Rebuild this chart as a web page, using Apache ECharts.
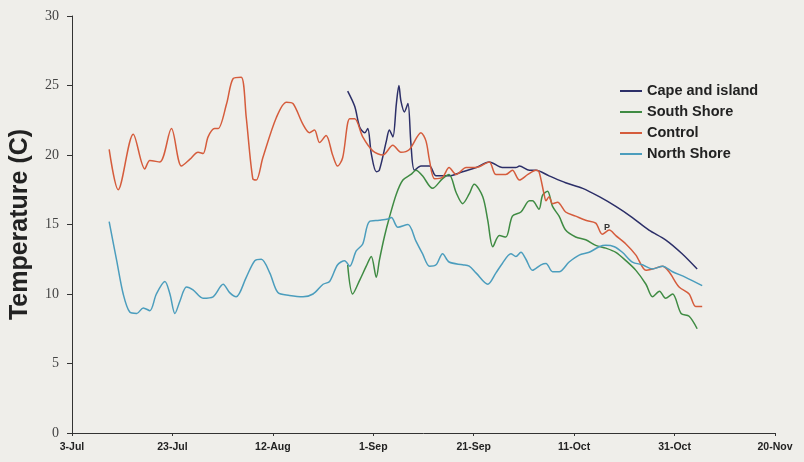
<!DOCTYPE html>
<html>
<head>
<meta charset="utf-8">
<script src="https://cdn.jsdelivr.net/npm/echarts@6/dist/echarts.min.js"></script>
<style>
html,body{margin:0;padding:0;background:#efeeea;}
#chart{width:804px;height:462px;}
</style>
</head>
<body>
<div id="chart"></div>
<script>
// x values are days after 3-Jul
var tickLabels = ['3-Jul','23-Jul','12-Aug','1-Sep','21-Sep','11-Oct','31-Oct','20-Nov'];
var seriesNames = ['Cape and island','South Shore','Control','North Shore'];

var capeIsland = [[54.9,24.6],[56.3,23.5],[57.3,22.0],[58.3,21.6],[58.9,21.9],[59.6,20.1],[60.6,18.8],[61.2,18.9],[62.6,21.0],[63.2,21.8],[63.9,21.3],[64.6,23.7],[65.1,25.0],[65.5,23.9],[66.2,23.1],[66.9,23.7],[67.5,20.8],[68.2,18.9],[69.5,19.2],[71.2,19.2],[72.5,18.5],[75.1,18.5],[77.8,18.8],[80.5,19.1],[83.1,19.5],[85.7,19.1],[88.4,19.1],[89.1,19.2],[91.1,18.9],[92.4,18.9],[95.0,18.5],[98.3,18.0],[101.7,17.6],[105.0,17.0],[108.3,16.3],[111.6,15.5],[114.9,14.6],[118.2,13.9],[121.5,12.9],[124.5,11.8]];

var southShore = [[54.9,12.1],[55.9,10.0],[57.3,11.0],[58.6,12.0],[59.6,12.7],[60.6,11.2],[61.2,12.4],[62.2,14.1],[63.2,15.5],[64.6,17.2],[65.9,18.2],[67.5,18.6],[68.5,18.9],[69.8,18.5],[71.8,17.6],[73.8,18.3],[75.1,18.6],[76.5,17.3],[77.8,16.5],[79.1,17.2],[80.1,17.9],[81.8,17.0],[82.8,15.3],[83.8,13.4],[85.1,14.2],[86.4,14.1],[87.7,15.6],[89.4,15.9],[91.1,16.7],[91.7,16.7],[93.0,16.1],[93.7,17.1],[94.7,17.4],[95.7,16.3],[97.0,15.6],[98.3,14.6],[100.3,14.1],[102.3,13.9],[104.3,13.5],[106.3,13.3],[108.3,13.0],[110.3,12.4],[112.3,11.7],[114.3,10.7],[115.6,9.8],[117.0,10.2],[118.2,9.7],[119.6,10.0],[121.3,8.6],[122.9,8.4],[124.5,7.5]];

var control = [[7.4,20.4],[9.2,17.5],[12.2,21.5],[14.5,19.0],[15.5,19.6],[17.5,19.5],[19.8,21.9],[21.8,19.2],[23.5,19.7],[25.1,20.2],[26.1,20.1],[27.1,21.3],[28.4,21.9],[29.1,21.9],[30.8,23.7],[32.1,25.5],[33.7,25.6],[34.7,22.7],[36.0,18.3],[36.7,18.2],[38.0,19.8],[40.7,22.7],[42.7,23.8],[44.0,23.7],[46.0,22.2],[47.3,21.6],[48.3,21.8],[49.3,20.9],[50.6,21.4],[51.9,20.0],[52.9,19.2],[53.9,19.8],[55.3,22.6],[56.3,22.6],[57.9,21.3],[59.9,20.3],[61.9,20.0],[63.9,20.7],[65.5,20.2],[67.2,20.4],[69.5,21.6],[70.5,21.0],[71.2,19.6],[72.2,18.3],[73.8,18.4],[75.1,19.1],[76.5,18.6],[78.5,19.1],[80.5,19.1],[83.1,19.5],[84.4,18.6],[86.4,18.6],[87.7,18.9],[89.1,18.2],[90.8,18.6],[92.4,18.9],[93.0,18.8],[94.0,17.2],[94.4,16.7],[95.0,17.0],[95.7,16.5],[96.7,16.6],[98.3,15.9],[100.3,15.6],[102.3,15.3],[104.3,15.1],[105.6,14.3],[107.0,14.6],[108.3,14.2],[110.3,13.6],[112.3,12.8],[114.3,11.7],[115.6,11.8],[117.6,12.0],[118.9,11.6],[120.9,10.5],[122.9,10.0],[124.2,9.1],[125.5,9.1]];

var northShore = [[7.4,15.2],[8.9,12.4],[10.2,10.0],[11.5,8.7],[12.9,8.6],[14.2,9.0],[15.5,8.8],[16.8,10.0],[18.5,10.9],[19.5,10.0],[20.5,8.6],[21.5,9.5],[22.8,10.5],[24.1,10.3],[26.1,9.7],[28.1,9.8],[30.1,10.7],[31.4,10.1],[32.7,9.8],[34.7,11.2],[36.4,12.4],[37.7,12.5],[39.4,11.5],[41.0,10.1],[43.3,9.9],[46.0,9.8],[48.0,10.0],[50.0,10.7],[51.3,10.9],[52.9,12.1],[54.3,12.4],[55.3,12.0],[56.6,13.1],[57.9,13.6],[59.2,15.2],[61.2,15.3],[62.9,15.4],[63.6,15.5],[64.9,14.8],[66.9,15.0],[68.5,13.8],[69.8,12.9],[71.2,12.0],[72.5,12.1],[73.8,12.9],[75.1,12.3],[77.8,12.1],[79.1,12.0],[80.5,11.5],[82.8,10.7],[84.4,11.5],[85.7,12.2],[87.4,12.9],[88.4,12.7],[89.4,13.0],[90.4,12.5],[91.7,11.7],[93.4,12.1],[94.4,12.2],[95.7,11.6],[97.0,11.6],[99.0,12.3],[101.0,12.8],[103.0,13.0],[105.0,13.4],[106.3,13.5],[108.0,13.4],[109.6,13.0],[111.6,12.3],[113.6,12.1],[115.6,11.8],[117.6,12.0],[119.6,11.6],[122.2,11.2],[125.5,10.6]];

var colors = ['#2c2f68','#3f8b43','#d55c3c','#4b9dbd'];
var dataSets = [capeIsland, southShore, control, northShore];

var chart = echarts.init(document.getElementById('chart'));
chart.setOption({
  backgroundColor: '#efeeea',
  animation: false,
  grid: {left: 72, right: 29, top: 16, bottom: 29},
  legend: {
    orient: 'vertical', left: 615, top: 78,
    icon: 'rect', itemWidth: 22, itemHeight: 2, itemGap: 5,
    textStyle: {fontFamily: 'Liberation Sans', fontWeight: 'bold', fontSize: 14.5, lineHeight: 16, color: '#222'},
    data: seriesNames
  },
  xAxis: {
    type: 'value', min: 0, max: 140, interval: 20,
    axisLine: {lineStyle: {color: '#333', width: 1}},
    axisTick: {length: 3, lineStyle: {color: '#333'}},
    splitLine: {show: false},
    axisLabel: {
      margin: 9, color: '#222', fontFamily: 'Liberation Sans', fontWeight: 'bold', fontSize: 10.5,
      formatter: function (v) { return tickLabels[Math.round(v / 20)]; }
    }
  },
  yAxis: {
    type: 'value', min: 0, max: 30, interval: 5,
    name: 'Temperature (C)', nameLocation: 'middle', nameGap: 39,
    nameTextStyle: {fontFamily: 'Liberation Sans', fontWeight: 'bold', fontSize: 25, color: '#222'},
    axisLine: {show: true, lineStyle: {color: '#333', width: 1}},
    axisTick: {show: true, length: 5, lineStyle: {color: '#333'}},
    splitLine: {show: false},
    axisLabel: {margin: 13, color: '#444', fontFamily: 'Liberation Serif', fontSize: 14}
  },
  graphic: [{
    type: 'text', left: 604, top: 223,
    style: {text: 'P', fontFamily: 'Liberation Sans', fontWeight: 'bold', fontSize: 9, fill: '#333'}
  }],
  series: seriesNames.map(function (n, i) {
    return {
      name: n, type: 'line', data: dataSets[i], smooth: 0.3, showSymbol: false,
      lineStyle: {color: colors[i], width: 1.5}, itemStyle: {color: colors[i]}
    };
  })
});
</script>
</body>
</html>
